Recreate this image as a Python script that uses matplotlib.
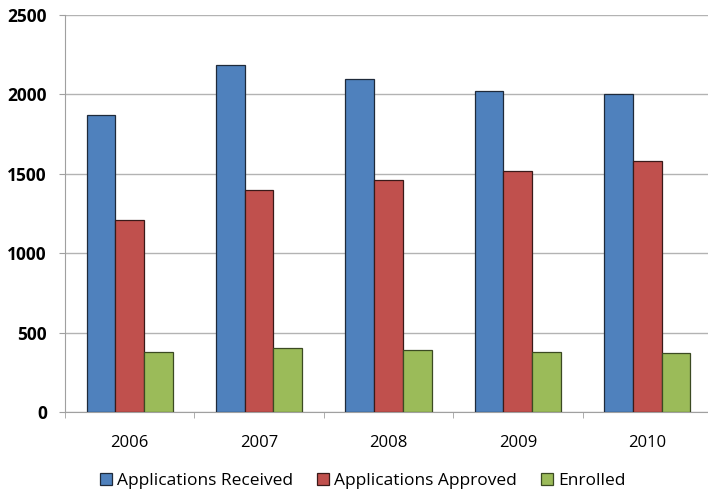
import matplotlib
matplotlib.use("Agg")
import matplotlib.pyplot as plt
import numpy as np
from matplotlib.ticker import FixedLocator

years = ["2006", "2007", "2008", "2009", "2010"]
received = [1872, 2187, 2095, 2022, 2003]
approved = [1213, 1401, 1464, 1521, 1583]
enrolled = [377, 404, 390, 379, 375]

series_names = ["Applications Received", "Applications Approved", "Enrolled"]
series_values = [received, approved, enrolled]
colors = ["#4F81BD", "#C0504D", "#9BBB59"]
edges = ["#1f2a3a", "#3a1a19", "#3b4a22"]

plt.rcParams["font.family"] = ["Open Sans", "DejaVu Sans"]

fig = plt.figure(figsize=(7.08, 4.91), dpi=100)
ax = fig.add_axes([65 / 708, 78.7 / 491, (708 - 65) / 708, 397.3 / 491])

x = np.arange(len(years))
w = 1 / 4.5
for i, (name, vals, c, ec) in enumerate(zip(series_names, series_values, colors, edges)):
    ax.bar(x + (i - 1) * w, vals, width=w, color=c, edgecolor=ec, linewidth=0.9,
           label=name, zorder=3)

ax.set_ylim(0, 2500)
ax.set_xlim(-0.5, 4.47)
ax.set_yticks(np.arange(0, 2501, 500))
ax.yaxis.grid(True, color="#b3b3b3", linewidth=1.0, zorder=0)
ax.set_axisbelow(True)

for s in ["top", "right"]:
    ax.spines[s].set_visible(False)
ax.spines["left"].set_color("#a0a0a0")
ax.spines["bottom"].set_color("#a0a0a0")

ax.tick_params(axis="y", length=4, color="#a0a0a0", pad=9, labelsize=12.5)
for lbl in ax.get_yticklabels():
    lbl.set_fontweight("bold")

ax.set_xticks(x)
ax.set_xticklabels(years)
ax.tick_params(axis="x", which="major", length=0, pad=16, labelsize=12)
ax.xaxis.set_minor_locator(FixedLocator(np.arange(-0.5, 4.6, 1.0)))
ax.tick_params(axis="x", which="minor", length=4, color="#a0a0a0")

handles, labels = ax.get_legend_handles_labels()
fig.legend(handles, labels, loc="center", bbox_to_anchor=(362.5 / 708, 1 - 481 / 491),
           ncol=3, frameon=False, fontsize=12.5, handlelength=0.72, handleheight=0.72,
           handletextpad=0.25, columnspacing=1.4)

fig.savefig("out.png", dpi=100)
